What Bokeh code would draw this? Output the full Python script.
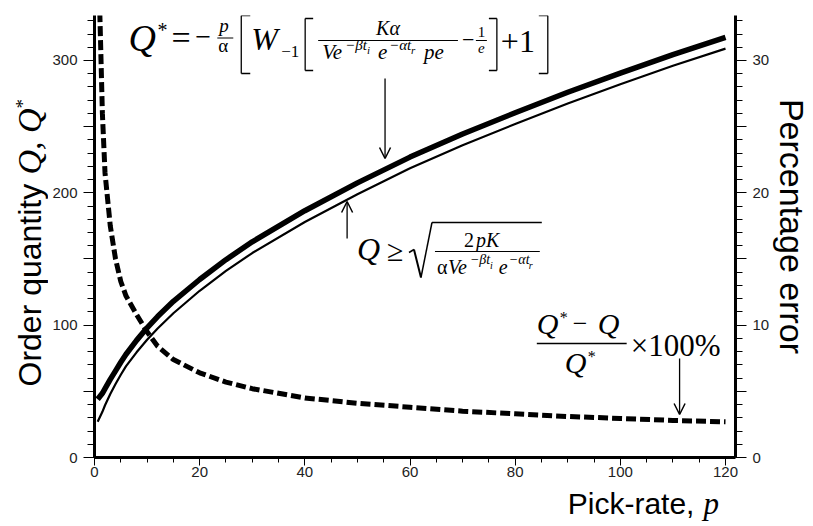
from math import pi
from bokeh.plotting import figure
from bokeh.layouts import row, column
from bokeh.models import Range1d, LinearAxis, SingleIntervalTicker, Label, Arrow, OpenHead
from bokeh.embed import file_html
from bokeh.resources import INLINE

# ---- data ----
pick_rate = [0.6, 1.5, 2, 3, 4, 5, 6, 8, 10, 12, 15, 20, 25, 30, 40, 50, 60, 70, 80, 90, 100, 110, 120]
q_star = [44, 48.5, 52, 59, 65.5, 72, 78, 88.5, 98, 106.5, 118, 134.5, 149.5, 163, 186.5,
          207.5, 227, 244.5, 260.5, 276, 290.5, 304.5, 317.5]
q_eoq = [27, 34.5, 39.5, 48, 55.5, 62.5, 69, 79.5, 89, 97.5, 109, 126, 141, 154.5, 178,
         199, 218.5, 236, 252, 267.5, 282, 296, 309]
pct_error = [40, 26, 21.5, 17.5, 15, 13.3, 12.2, 10.8, 9.5, 8.4, 7.4, 6.4, 5.7, 5.2, 4.5,
             4.1, 3.8, 3.5, 3.3, 3.1, 2.95, 2.8, 2.7]

x_tick_step = 20
q_tick_step = 50
q_label_hidden = [50, 150, 250]
err_tick_step = 5
err_label_hidden = [5, 15, 25]

X_MAX = 121.9
Q_MAX = 334.0
ERR_MAX = 33.4

SERIF = "Liberation Serif"
SANS = "Liberation Sans"

# ---- page layout (pixels) ----
LEFT_W = 48
MAIN_W, MAIN_H = 724, 484
RIGHT_W = 38
BOTTOM_H = 39
FL, FT, FW, FH = 94, 15, 642, 442          # frame on the page
B_LEFT = FL - LEFT_W
B_RIGHT = MAIN_W - B_LEFT - FW
B_BOTTOM = MAIN_H - FT - FH
SHIFT = 0.33                                # baseline correction (em)

p = figure(width=MAIN_W, height=MAIN_H, output_backend="svg", toolbar_location=None,
           x_range=Range1d(0, X_MAX), y_range=Range1d(0, Q_MAX),
           min_border_left=B_LEFT, min_border_right=B_RIGHT,
           min_border_top=FT, min_border_bottom=B_BOTTOM)
p.extra_y_ranges = {"err": Range1d(0, ERR_MAX)}
p.grid.visible = False
p.outline_line_color = None
p.background_fill_color = "white"
p.border_fill_color = "white"

def style_axis(ax, tick_out, minor_out):
    ax.axis_line_width = 3
    ax.axis_line_color = "black"
    ax.major_tick_in = 0
    ax.minor_tick_in = 0
    ax.major_tick_out = tick_out
    ax.minor_tick_out = minor_out
    ax.major_tick_line_color = "black"
    ax.minor_tick_line_color = "black"
    ax.major_tick_line_width = 1
    ax.minor_tick_line_width = 1
    ax.major_label_text_font = SANS
    ax.major_label_text_font_size = "15px"
    ax.major_label_text_color = "#222222"

xa = p.xaxis[0]
xa.ticker = SingleIntervalTicker(interval=x_tick_step, num_minor_ticks=4)
style_axis(xa, 8, 5)
xa.major_label_standoff = 1

ya = p.yaxis[0]
ya.ticker = SingleIntervalTicker(interval=q_tick_step, num_minor_ticks=5)
ya.major_label_overrides = {v: "" for v in q_label_hidden}
style_axis(ya, 11, 7)
ya.major_label_standoff = 6

ra = LinearAxis(y_range_name="err",
                ticker=SingleIntervalTicker(interval=err_tick_step, num_minor_ticks=5))
ra.major_label_overrides = {v: "" for v in err_label_hidden}
style_axis(ra, 11, 7)
ra.major_label_standoff = 6
p.add_layout(ra, "right")

# ---- curves ----
p.line(pick_rate, q_star, line_width=5.5, line_color="black")
p.line(pick_rate, q_eoq, line_width=2.2, line_color="black")
p.line(pick_rate, pct_error, line_width=5, line_color="black", line_dash="10 4",
       y_range_name="err")

# ---- annotation helpers (page pixel positions -> data) ----
def dx(X):
    return (X - FL) / FW * X_MAX
def dy(Y):
    return (FT + FH - Y) / FH * Q_MAX

def shifted(X, Y, size, angle):
    s = SHIFT * size
    if angle > 0.1:
        return X - s, Y
    if angle < -0.1:
        return X + s, Y
    return X, Y - s

def make_label(s, x, y, size, font, style, align, angle):
    return Label(x=x, y=y, text=s, text_font=font, text_font_size=f"{size}px",
                 text_font_style=style, text_align=align, text_baseline="alphabetic",
                 angle=angle, text_color="black")

def txt(s, X, Y, size, font=SERIF, style="italic", align="left"):
    X, Y = shifted(X, Y, size, 0.0)
    p.add_layout(make_label(s, dx(X), dy(Y), size, font, style, align, 0.0))

def seg(X1, Y1, X2, Y2, w=1.3, head=False):
    p.add_layout(Arrow(x_start=dx(X1), y_start=dy(Y1), x_end=dx(X2), y_end=dy(Y2),
                       line_width=w, line_color="black", start=None,
                       end=OpenHead(size=11, line_width=1.5, line_color="black") if head else None))

def lbracket(X, Y1, Y2, hook):
    seg(X + hook, Y1, X, Y1); seg(X, Y1, X, Y2); seg(X, Y2, X + hook, Y2)

def rbracket(X, Y1, Y2, hook):
    seg(X - hook, Y1, X, Y1); seg(X, Y1, X, Y2); seg(X, Y2, X - hook, Y2)

# ---- formula 1: Q* ----
txt("Q", 128, 50, 38)
txt("*", 157, 36, 20, style="normal")
txt("=", 171, 48, 34, style="normal")
txt("−", 195, 46, 28, style="normal")
txt("p", 219, 31, 19)
seg(217, 37.5, 233, 37.5, w=1)
txt("α", 218, 51, 19, style="normal")
lbracket(241, 15, 73, 9)
txt("W", 251, 49, 32)
txt("−1", 281, 57, 17, style="normal")
lbracket(305, 18, 70, 8)
txt("Kα", 388, 34, 20, align="center")
seg(318, 40, 458, 40, w=1.2)
txt("Ve", 322, 58, 21)
txt("−βt", 345, 49, 15)
txt("i", 367, 53, 11)
txt("e", 378, 58, 21)
txt("−αt", 389, 49, 15)
txt("r", 411, 53, 11)
txt("pe", 424, 58, 21)
txt("−", 462, 47, 22, style="normal")
txt("1", 481.5, 36, 15, style="normal", align="center")
seg(476, 40, 487, 40, w=1)
txt("e", 481.5, 52, 15, align="center")
rbracket(497, 18, 70, 8)
txt("+1", 501, 52, 32, style="normal")
rbracket(548, 15, 73, 9)
seg(385, 78, 385, 158, head=True)

# ---- formula 2: Q >= sqrt(...) ----
seg(347, 238, 347, 201, head=True)
txt("Q", 357, 259, 32)
txt("≥", 387, 260, 30, style="normal")
seg(409, 252, 414, 249, w=1.5)
seg(414, 249, 421, 277, w=2)
seg(421, 277, 432, 222, w=1.5)
seg(432, 222, 542, 222, w=1.5)
txt("2", 464, 246, 20, style="normal")
txt("pK", 476, 246, 20)
seg(435, 251, 540, 251, w=1.2)
txt("α", 437, 273, 20, style="normal")
txt("Ve", 448, 273, 20)
txt("−βt", 470, 264, 14)
txt("i", 490, 268, 10)
txt("e", 499, 273, 20)
txt("−αt", 509, 264, 14)
txt("r", 529, 268, 10)

# ---- formula 3: percentage error ----
txt("Q", 537, 333, 30)
txt("*", 560, 322, 16, style="normal")
txt("−", 573, 332, 26, style="normal")
txt("Q", 598, 333, 30)
seg(537, 343, 627, 343, w=1.5)
txt("Q", 565, 372, 30)
txt("*", 588, 361, 16, style="normal")
txt("×100%", 631, 355, 31, style="normal")
seg(680, 358, 680, 414, head=True)

# ---- title strips: small figures whose frames use page pixel coordinates ----
def strip(w, h, xr, yr, bl=0, br=0, bt=0, bb=0):
    f = figure(width=w, height=h, output_backend="svg", toolbar_location=None, title=None,
               x_range=Range1d(*xr), y_range=Range1d(*yr),
               x_axis_type=None, y_axis_type=None,
               min_border_left=bl, min_border_right=br,
               min_border_top=bt, min_border_bottom=bb)
    f.grid.visible = False
    f.outline_line_color = None
    f.background_fill_color = "white"
    f.border_fill_color = "white"
    return f

def stxt(fig, s, X, Y, size, font=SERIF, style="italic", align="left", angle=0.0):
    X, Y = shifted(X, Y, size, angle)
    fig.add_layout(make_label(s, X, Y, size, font, style, align, angle))

left = strip(LEFT_W, MAIN_H, (0, LEFT_W), (FT + FH, FT), bt=FT, bb=B_BOTTOM)
stxt(left, "Order quantity ", 40, 386, 32, font=SANS, style="normal", angle=pi / 2)
stxt(left, "Q, Q", 40, 174, 34, angle=pi / 2)
stxt(left, "*", 28, 108, 19, style="normal", angle=pi / 2)

RX0 = LEFT_W + MAIN_W
right = strip(RIGHT_W, MAIN_H, (RX0, RX0 + RIGHT_W), (FT + FH, FT), bt=FT, bb=B_BOTTOM)
stxt(right, "Percentage error", 780, 226, 34, font=SANS, style="normal",
     align="center", angle=-pi / 2)

bottom = strip(MAIN_W, BOTTOM_H, (FL, FL + FW), (MAIN_H + BOTTOM_H, MAIN_H),
               bl=B_LEFT, br=B_RIGHT)
stxt(bottom, "Pick-rate, ", 568, 513, 30, font=SANS, style="normal")
stxt(bottom, "p", 704, 513, 31)

layout = row(left, column(p, bottom), right)
open("out.html", "w").write(file_html(layout, INLINE))
